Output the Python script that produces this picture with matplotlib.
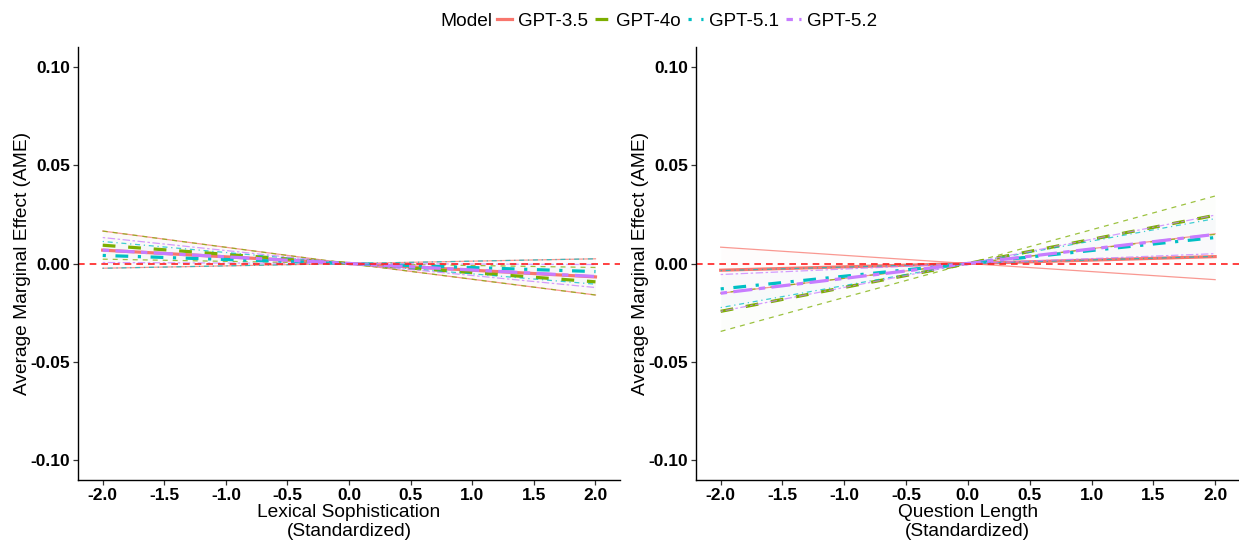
import matplotlib
matplotlib.use("Agg")
import matplotlib.pyplot as plt
from matplotlib.lines import Line2D

plt.rcParams["font.family"] = ["Liberation Sans", "DejaVu Sans"]

# data: AME at x = -2, 0, 2 (center, lower CI, upper CI)
x_vals = [-2.0, 0.0, 2.0]
models = ["GPT-3.5", "GPT-4o", "GPT-5.1", "GPT-5.2"]

lex_center = {
    "GPT-3.5": [0.0068, 0.0, -0.0068],
    "GPT-4o": [0.0093, 0.0, -0.0093],
    "GPT-5.1": [0.0041, 0.0, -0.0041],
    "GPT-5.2": [0.0068, 0.0, -0.0066],
}
lex_lower = {
    "GPT-3.5": [-0.0024, 0.0, -0.0160],
    "GPT-4o": [0.0022, 0.0, -0.0160],
    "GPT-5.1": [-0.0024, 0.0, -0.0105],
    "GPT-5.2": [0.0005, 0.0, -0.0122],
}
lex_upper = {
    "GPT-3.5": [0.0165, 0.0, 0.0024],
    "GPT-4o": [0.0165, 0.0, -0.0020],
    "GPT-5.1": [0.0112, 0.0, 0.0024],
    "GPT-5.2": [0.0132, 0.0, -0.0005],
}

len_center = {
    "GPT-3.5": [-0.0034, 0.0, 0.0035],
    "GPT-4o": [-0.0243, 0.0, 0.0245],
    "GPT-5.1": [-0.0129, 0.0, 0.0132],
    "GPT-5.2": [-0.0151, 0.0, 0.0148],
}
len_lower = {
    "GPT-3.5": [-0.0151, 0.0, -0.0082],
    "GPT-4o": [-0.0345, 0.0, 0.0148],
    "GPT-5.1": [-0.0224, 0.0, 0.0036],
    "GPT-5.2": [-0.0243, 0.0, 0.0050],
}
len_upper = {
    "GPT-3.5": [0.0083, 0.0, 0.0151],
    "GPT-4o": [-0.0150, 0.0, 0.0343],
    "GPT-5.1": [-0.0036, 0.0, 0.0228],
    "GPT-5.2": [-0.0056, 0.0, 0.0246],
}

y_ticks = [-0.10, -0.05, 0.00, 0.05, 0.10]
y_tick_labels = ["-0.10", "-0.05", "0.00", "0.05", "0.10"]
x_ticks = [-2.0, -1.5, -1.0, -0.5, 0.0, 0.5, 1.0, 1.5, 2.0]
x_tick_labels = ["-2.0", "-1.5", "-1.0", "-0.5", "0.0", "0.5", "1.0", "1.5", "2.0"]

colors = {"GPT-3.5": "#F8766D", "GPT-4o": "#7CAE00",
          "GPT-5.1": "#00BFC4", "GPT-5.2": "#C77CFF"}
dashes = {"GPT-3.5": (None, None), "GPT-4o": (4, 4),
          "GPT-5.1": (1, 3, 4, 3), "GPT-5.2": (2, 2, 6, 2)}

fig = plt.figure(figsize=(12.39, 5.44), dpi=100)
ax1 = fig.add_axes([0.063, 0.1176, 0.4375, 0.796])
ax2 = fig.add_axes([0.5617, 0.1176, 0.439, 0.796])


def draw_panel(ax, center, lower, upper, xlabel):
    for m in models:
        ax.fill_between(x_vals, lower[m], upper[m], color=colors[m],
                        alpha=0.015, linewidth=0)
    for m in models:
        c = colors[m]
        d = dashes[m]
        for band in (lower[m], upper[m]):
            ln, = ax.plot(x_vals, band, color=c, lw=0.9, alpha=0.75)
            if d[0] is not None:
                ln.set_dashes(d)
        ln, = ax.plot(x_vals, center[m], color=c, lw=2.3)
        if d[0] is not None:
            ln.set_dashes(d)
    ref = ax.axhline(0, color="#FF2020", lw=1.2)
    ref.set_dashes((4, 3))
    ax.set_xlim(-2.2, 2.2)
    ax.set_ylim(-0.11, 0.11)
    ax.set_yticks(y_ticks)
    ax.set_yticklabels(y_tick_labels)
    ax.set_xticks(x_ticks)
    ax.set_xticklabels(x_tick_labels)
    for lab in ax.get_xticklabels() + ax.get_yticklabels():
        lab.set_fontweight("bold")
        lab.set_fontsize(12.5)
    ax.tick_params(length=3.5, width=0.9, pad=2, color="#333333")
    ax.spines["top"].set_visible(False)
    ax.spines["right"].set_visible(False)
    ax.spines["left"].set_linewidth(1.0)
    ax.spines["bottom"].set_linewidth(1.0)
    ax.set_ylabel("Average Marginal Effect (AME)", fontsize=13.8)
    ax.yaxis.set_label_coords(-0.087, 0.5)
    ax.set_xlabel(xlabel, fontsize=13.8, linespacing=1.12, labelpad=1)


draw_panel(ax1, lex_center, lex_lower, lex_upper,
           "Lexical Sophistication\n(Standardized)")
draw_panel(ax2, len_center, len_lower, len_upper,
           "Question Length\n(Standardized)")

handles = []
for m in models:
    h = Line2D([0], [0], color=colors[m], lw=2.3)
    if dashes[m][0] is not None:
        h.set_dashes(dashes[m])
    handles.append(h)

fig.text(492 / 1239, 1 - 21 / 544, "Model", fontsize=13.8,
         ha="right", va="center")
fig.legend(handles, models, loc="center left",
           bbox_to_anchor=(497 / 1239, 1 - 21 / 544), ncol=4,
           frameon=False, fontsize=13.5, handlelength=0.8,
           handletextpad=0.3, columnspacing=0.4, borderpad=0,
           borderaxespad=0)

fig.savefig("out.png", dpi=100)
